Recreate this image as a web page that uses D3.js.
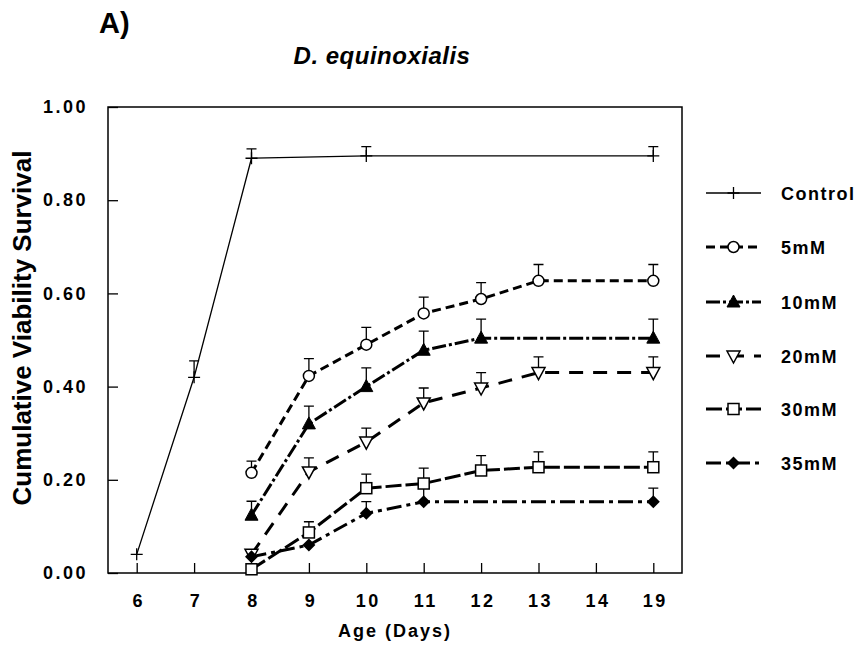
<!DOCTYPE html>
<html>
<head>
<meta charset="utf-8">
<script src="https://cdn.jsdelivr.net/npm/d3@7"></script>
<style>
  body { margin: 0; background: #fff; }
  text { font-family: "Liberation Sans", Arial, sans-serif; fill: #000; }
</style>
</head>
<body>
<div id="chart"></div>
<script>
// x categories (age in days) and y ticks
const days = ["6", "7", "8", "9", "10", "11", "12", "13", "14", "19"];
const yTicks = [0, 0.2, 0.4, 0.6, 0.8, 1.0];

// series values (mean and error-bar height)
const controlDays = ["6", "7", "8", "10", "19"];
const controlMean = [0.04, 0.42, 0.89, 0.895, 0.895];
const controlErr  = [0, 0.035, 0.02, 0.02, 0.02];

const mM5Days = ["8", "9", "10", "11", "12", "13", "19"];
const mM5Mean = [0.215, 0.423, 0.49, 0.557, 0.588, 0.627, 0.627];
const mM5Err  = [0.025, 0.037, 0.037, 0.035, 0.035, 0.035, 0.035];

const mM10Days = ["8", "9", "10", "11", "12", "19"];
const mM10Mean = [0.124, 0.32, 0.40, 0.478, 0.504, 0.504];
const mM10Err  = [0.03, 0.038, 0.04, 0.041, 0.041, 0.041];

const mM20Days = ["8", "9", "10", "11", "12", "13", "19"];
const mM20Mean = [0.04, 0.217, 0.281, 0.365, 0.397, 0.43, 0.43];
const mM20Err  = [0, 0.03, 0.03, 0.032, 0.033, 0.034, 0.034];

const mM30Days = ["8", "9", "10", "11", "12", "13", "19"];
const mM30Mean = [0.008, 0.087, 0.182, 0.192, 0.22, 0.227, 0.227];
const mM30Err  = [0, 0.023, 0.03, 0.033, 0.032, 0.033, 0.033];

const mM35Days = ["8", "9", "10", "11", "19"];
const mM35Mean = [0.035, 0.06, 0.128, 0.153, 0.153];
const mM35Err  = [0, 0, 0.025, 0.029, 0.029];

const seriesNames = ["Control", "5mM", "10mM", "20mM", "30mM", "35mM"];

function zip(ds, ms, es) {
    return ds.map((d, i) => ({day: d, mean: ms[i], err: es[i]}));
}

let series = [
    {name: seriesNames[0], pts: zip(controlDays, controlMean, controlErr), marker: "plus", width: 1.3, dash: null},
    {name: seriesNames[1], pts: zip(mM5Days, mM5Mean, mM5Err), marker: "circle", width: 3, dash: "9,5"},
    {name: seriesNames[2], pts: zip(mM10Days, mM10Mean, mM10Err), marker: "triUp", width: 3, dash: "14,3,3,3"},
    {name: seriesNames[3], pts: zip(mM20Days, mM20Mean, mM20Err), marker: "triDown", width: 3, dash: "14,10"},
    {name: seriesNames[4], pts: zip(mM30Days, mM30Mean, mM30Err), marker: "square", width: 3, dash: "16,4"},
    {name: seriesNames[5], pts: zip(mM35Days, mM35Mean, mM35Err), marker: "diamond", width: 3, dash: "15,5,4,5"}
];

const width = 857, height = 649;
const margin = {top: 107, right: 175, bottom: 76, left: 108};

let svg = d3.select("#chart").append("svg")
    .attr("width", width)
    .attr("height", height);

let xScale = d3.scalePoint().domain(days)
    .range([margin.left, width - margin.right]).padding(0.5);
let yScale = d3.scaleLinear().domain([0, 1])
    .range([height - margin.bottom, margin.top]);

// frame
svg.append("rect")
    .attr("x", margin.left).attr("y", margin.top)
    .attr("width", width - margin.right - margin.left)
    .attr("height", height - margin.bottom - margin.top)
    .attr("fill", "none").attr("stroke", "#000").attr("stroke-width", 1.5);

// axes with inward ticks
let xAxis = svg.append("g")
    .attr("transform", "translate(0," + (height - margin.bottom) + ")")
    .call(d3.axisBottom(xScale).tickSize(-10).tickPadding(21));
let yAxis = svg.append("g")
    .attr("transform", "translate(" + margin.left + ",0)")
    .call(d3.axisLeft(yScale).tickValues(yTicks).tickFormat(d3.format(".2f")).tickSize(-10).tickPadding(20));

[xAxis, yAxis].forEach(a => {
    a.select(".domain").remove();
    a.selectAll(".tick line").attr("stroke", "#000").attr("stroke-width", 1.3);
    a.selectAll(".tick text")
        .attr("font-family", "Liberation Sans, Arial, sans-serif")
        .attr("font-size", 18).attr("font-weight", "bold")
        .style("letter-spacing", "2.5px");
});
xAxis.selectAll(".tick text").attr("dx", "1.5px");

// titles
svg.append("text").attr("x", 99).attr("y", 33)
    .attr("font-size", 29).attr("font-weight", "bold").text("A)");
svg.append("text").attr("x", 382).attr("y", 64).attr("text-anchor", "middle")
    .attr("font-size", 24).attr("font-weight", "bold").attr("font-style", "italic")
    .style("letter-spacing", "0.5px")
    .text("D. equinoxialis");
svg.append("text").attr("x", 395).attr("y", 637).attr("text-anchor", "middle")
    .attr("font-size", 18).attr("font-weight", "bold").style("letter-spacing", "2px")
    .text("Age (Days)");
svg.append("text")
    .attr("transform", "translate(31," + 328 + ") rotate(-90)")
    .attr("text-anchor", "middle")
    .attr("font-size", 26).attr("font-weight", "bold")
    .text("Cumulative Viability Survival");

function drawMarker(g, type, cx, cy) {
    if (type === "plus") {
        g.append("path").attr("d", `M${cx - 6},${cy}H${cx + 6}M${cx},${cy - 6}V${cy + 6}`)
            .attr("stroke", "#000").attr("stroke-width", 1.3).attr("fill", "none");
    } else if (type === "circle") {
        g.append("circle").attr("cx", cx).attr("cy", cy).attr("r", 5.5)
            .attr("fill", "#fff").attr("stroke", "#000").attr("stroke-width", 1.5);
    } else if (type === "triUp") {
        g.append("path").attr("d", `M${cx},${cy - 7}L${cx + 6.5},${cy + 5}L${cx - 6.5},${cy + 5}Z`)
            .attr("fill", "#000").attr("stroke", "#000");
    } else if (type === "triDown") {
        g.append("path").attr("d", `M${cx - 6.5},${cy - 5}L${cx + 6.5},${cy - 5}L${cx},${cy + 7}Z`)
            .attr("fill", "#fff").attr("stroke", "#000").attr("stroke-width", 1.5);
    } else if (type === "square") {
        g.append("rect").attr("x", cx - 5.5).attr("y", cy - 5.5).attr("width", 11).attr("height", 11)
            .attr("fill", "#fff").attr("stroke", "#000").attr("stroke-width", 1.5);
    } else if (type === "diamond") {
        g.append("path").attr("d", `M${cx},${cy - 6.5}L${cx + 6.5},${cy}L${cx},${cy + 6.5}L${cx - 6.5},${cy}Z`)
            .attr("fill", "#000");
    }
}

let line = d3.line().x(d => xScale(d.day)).y(d => yScale(d.mean));

let lines = svg.append("g");
series.forEach(s => {
    lines.append("path").datum(s.pts)
        .attr("d", line)
        .attr("fill", "none").attr("stroke", "#000")
        .attr("stroke-width", s.width)
        .attr("stroke-dasharray", s.dash);
});

// error bars (upper only)
let errs = svg.append("g");
series.forEach(s => {
    s.pts.filter(p => p.err > 0).forEach(p => {
        let cx = xScale(p.day), y0 = yScale(p.mean), y1 = yScale(p.mean + p.err);
        errs.append("path").attr("d", `M${cx},${y0}V${y1}M${cx - 5},${y1}H${cx + 5}`)
            .attr("stroke", "#000").attr("stroke-width", 1.3).attr("fill", "none");
    });
});

let markers = svg.append("g");
series.forEach(s => {
    s.pts.forEach(p => drawMarker(markers, s.marker, xScale(p.day), yScale(p.mean)));
});

// legend
const legendY = [193, 247, 302, 356, 409, 463];
let legend = svg.append("g");
series.forEach((s, i) => {
    let y = legendY[i];
    legend.append("line").attr("x1", 706).attr("x2", 761).attr("y1", y).attr("y2", y)
        .attr("stroke", "#000").attr("stroke-width", s.width)
        .attr("stroke-dasharray", s.dash);
    drawMarker(legend, s.marker, 733.5, y);
    legend.append("text").attr("x", 781).attr("y", y + 6.5)
        .attr("font-size", 18).attr("font-weight", "bold")
        .style("letter-spacing", "1.5px")
        .text(s.name);
});
</script>
</body>
</html>
